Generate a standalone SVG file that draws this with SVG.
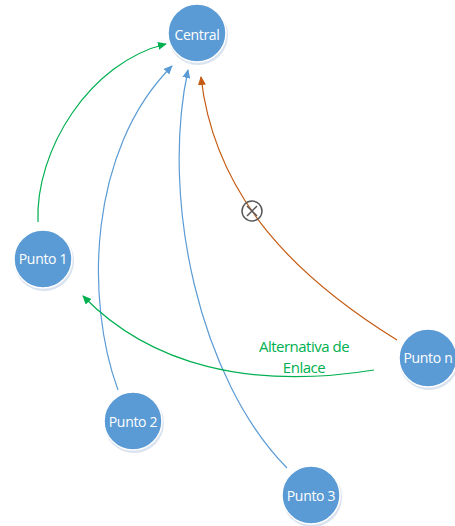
<svg xmlns="http://www.w3.org/2000/svg" width="455" height="526" viewBox="0 0 455 526">
<defs>
<style>
.node{fill:#5B9BD5;stroke:#ffffff;stroke-width:1.5}
.shadow{fill:#c9d6e8;opacity:0.7}
.lbl{font-family:"Open Sans","Liberation Sans",sans-serif;font-size:14px;fill:#ffffff;text-anchor:middle;dominant-baseline:central;letter-spacing:-0.3px}
.edge{fill:none;stroke-width:1.2}
.g{stroke:#00B050}
.b{stroke:#5B9BD5}
.o{stroke:#C55A11}
.note{font-family:"Open Sans","Liberation Sans",sans-serif;font-size:15px;fill:#00B050;text-anchor:middle;letter-spacing:-0.5px}
</style>
<marker id="ag" markerWidth="9" markerHeight="8" refX="8" refY="4" orient="auto" markerUnits="userSpaceOnUse"><path d="M0,0 L9,4 L0,8 Z" fill="#00B050"/></marker>
<marker id="ab" markerWidth="9" markerHeight="8" refX="8" refY="4" orient="auto" markerUnits="userSpaceOnUse"><path d="M0,0 L9,4 L0,8 Z" fill="#5B9BD5"/></marker>
<marker id="ao" markerWidth="9" markerHeight="8" refX="8" refY="4" orient="auto" markerUnits="userSpaceOnUse"><path d="M0,0 L9,4 L0,8 Z" fill="#C55A11"/></marker>
</defs>
<rect width="455" height="526" fill="#ffffff"/>
<g id="connectors">
<path class="edge g" d="M38,222 C35,150 90,62 166,44" marker-end="url(#ag)"/>
<path class="edge b" d="M118,390 C85,300 88,150 172,66" marker-end="url(#ab)"/>
<path class="edge b" d="M287,468 C200,380 160,200 188,70" marker-end="url(#ab)"/>
<path class="edge o" d="M397,340 C300,280 215,200 201,77" marker-end="url(#ao)"/>
<path class="edge g" d="M374,370 C250,390 150,365 83,296" marker-end="url(#ag)"/>
<g id="cut">
<circle cx="252" cy="211" r="10" fill="none" stroke="#595959" stroke-width="1.5"/>
<path d="M247,206 L257,216 M257,206 L247,216" stroke="#595959" stroke-width="1.5"/>
</g>
<text class="note" x="304" y="352">Alternativa de</text>
<text class="note" x="304" y="373">Enlace</text>
</g>
<g id="central"><circle class="shadow" cx="198" cy="35" r="30"/><circle class="node" cx="197" cy="33" r="29"/><text class="lbl" x="197" y="34">Central</text></g>
<g id="punto1"><circle class="shadow" cx="44" cy="261" r="30"/><circle class="node" cx="43" cy="259" r="29"/><text class="lbl" x="43" y="258">Punto 1</text></g>
<g id="punto2"><circle class="shadow" cx="134" cy="423" r="30"/><circle class="node" cx="133" cy="421" r="29"/><text class="lbl" x="133" y="421">Punto 2</text></g>
<g id="punto3"><circle class="shadow" cx="312" cy="497" r="30"/><circle class="node" cx="311" cy="495" r="29"/><text class="lbl" x="311" y="495">Punto 3</text></g>
<g id="punton"><circle class="shadow" cx="429" cy="360" r="30"/><circle class="node" cx="428" cy="358" r="29"/><text class="lbl" x="428" y="357">Punto n</text></g>
</svg>
